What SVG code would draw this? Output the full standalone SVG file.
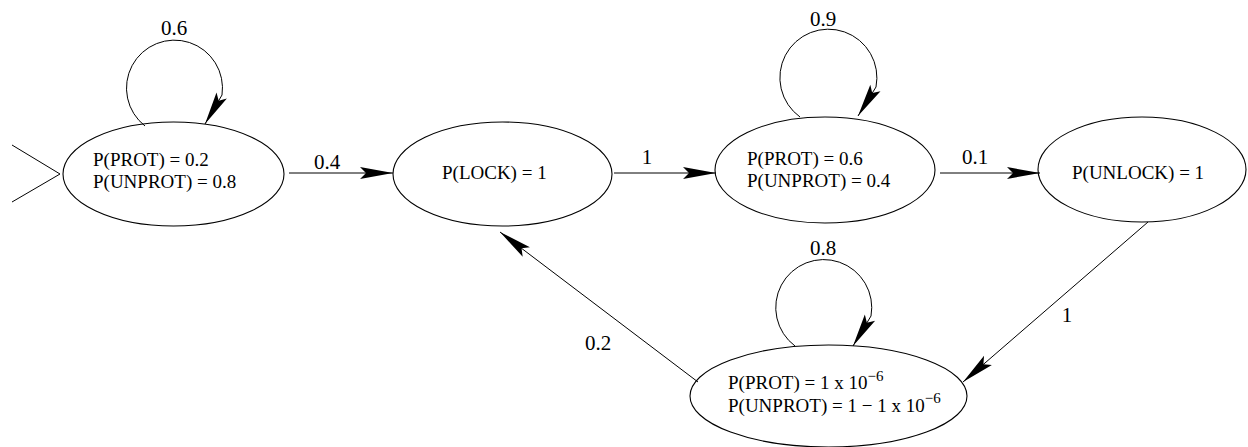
<svg xmlns="http://www.w3.org/2000/svg" width="1248" height="447" viewBox="0 0 1248 447">
<style>
.node ellipse{fill:none;stroke:#000;stroke-width:1.1}
.nt{font-family:"Liberation Serif","Times New Roman",serif;font-size:19px;fill:#000}
.sup{font-size:15px}
.edge{fill:none;stroke:#000;stroke-width:1}
.lbl{font-family:"Liberation Serif","Times New Roman",serif;font-size:21px;fill:#000;text-anchor:middle}
</style>
<defs>
<marker id="ah" markerUnits="userSpaceOnUse" viewBox="-34 -8 35 16" refX="0" refY="0" markerWidth="35" markerHeight="16" orient="auto">
<path d="M0,0 L-33,-6 L-27,0 L-33,6 Z" fill="#000"/>
</marker>
</defs>
<rect width="1248" height="447" fill="#fff"/>
<g id="start">
<path class="edge" d="M12,145 L60,174 L12,202"/>
</g>
<g id="n1" class="node">
<ellipse cx="173.5" cy="174" rx="110.5" ry="52"/>
<text class="nt" x="93" y="166">P(PROT) = 0.2</text>
<text class="nt" x="93" y="188">P(UNPROT) = 0.8</text>
</g>
<g id="n2" class="node">
<ellipse cx="502.5" cy="174" rx="109.5" ry="52"/>
<text class="nt" x="442" y="179">P(LOCK) = 1</text>
</g>
<g id="n3" class="node">
<ellipse cx="825" cy="170" rx="110" ry="53"/>
<text class="nt" x="747" y="165">P(PROT) = 0.6</text>
<text class="nt" x="747" y="187">P(UNPROT) = 0.4</text>
</g>
<g id="n4" class="node">
<ellipse cx="1142" cy="169.5" rx="104" ry="52.5"/>
<text class="nt" x="1072" y="179">P(UNLOCK) = 1</text>
</g>
<g id="n5" class="node">
<ellipse cx="828.5" cy="396" rx="138.5" ry="51"/>
<text class="nt" x="728" y="389">P(PROT) = 1 x 10<tspan class="sup" dy="-8">−6</tspan></text>
<text class="nt" x="728" y="412">P(UNPROT) = 1 − 1 x 10<tspan class="sup" dy="-9">−6</tspan></text>
</g>
<g id="connectors">
<path class="edge" d="M145,126 A48 48 0 1 1 222,95 L205,124" marker-end="url(#ah)"/>
<text class="lbl" x="174" y="35">0.6</text>
<path class="edge" d="M289,173 L393,173" marker-end="url(#ah)"/>
<text class="lbl" x="327" y="169">0.4</text>
<path class="edge" d="M614,173 L716,173" marker-end="url(#ah)"/>
<text class="lbl" x="647" y="164">1</text>
<path class="edge" d="M800,117 A48.5 48.5 0 1 1 876,87 L858,116" marker-end="url(#ah)"/>
<text class="lbl" x="823" y="26">0.9</text>
<path class="edge" d="M940,173 L1040,173" marker-end="url(#ah)"/>
<text class="lbl" x="975" y="164">0.1</text>
<path class="edge" d="M1148,222 L963,382" marker-end="url(#ah)"/>
<text class="lbl" x="1067" y="322">1</text>
<path class="edge" d="M795,346 A48 48 0 1 1 871,316 L853,346" marker-end="url(#ah)"/>
<text class="lbl" x="823" y="255">0.8</text>
<path class="edge" d="M698,382 L500,232" marker-end="url(#ah)"/>
<text class="lbl" x="598" y="350">0.2</text>
</g>
</svg>
